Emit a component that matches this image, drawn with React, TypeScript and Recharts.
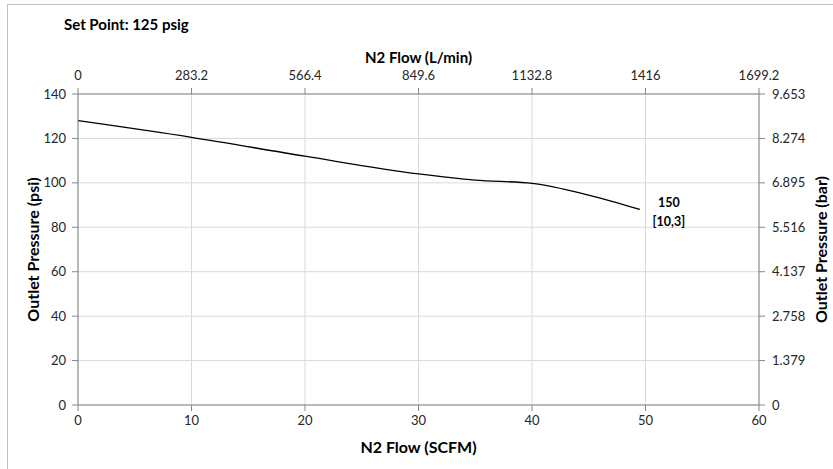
import { CartesianGrid, Label, LabelList, Line, LineChart, XAxis, YAxis } from "recharts";

const scfm = [0, 10, 20, 30, 35, 40, 45, 49.5];
const psi = [128, 120.5, 112, 104, 101.2, 99.8, 94.5, 88];

const scfmTicks = [0, 10, 20, 30, 40, 50, 60];
const lpmTicks = ["0", "283.2", "566.4", "849.6", "1132.8", "1416", "1699.2"];
const psiTicks = [0, 20, 40, 60, 80, 100, 120, 140];
const barTicks = ["0", "1.379", "2.758", "4.137", "5.516", "6.895", "8.274", "9.653"];

const endLabel = ["150", "[10,3]"];
const setPoint = "Set Point: 125 psig";

const data = scfm.map((x, i) => ({ scfm: x, psi: psi[i] }));

const FONT = "Lato, 'Noto Sans', sans-serif";
const tickStyle = { fontSize: 13, fill: "#262626", fontFamily: FONT };
const axisGray = "#868686";

const titleProps = { fontFamily: FONT, fontWeight: 700, fill: "#000" };

const renderEndLabel = (props: any) => {
  const { x, y, index } = props;
  if (index !== data.length - 1) return null;
  return (
    <g>
      <text x={x + 29} y={y - 7} textAnchor="middle" dominantBaseline="central" fontSize={12.5} {...titleProps}>
        {endLabel[0]}
      </text>
      <text x={x + 29} y={y + 12} textAnchor="middle" dominantBaseline="central" fontSize={12.5} {...titleProps}>
        {endLabel[1]}
      </text>
    </g>
  );
};

const App = () => {
  return (
    <div style={{ position: "absolute", left: 0, top: 0, width: 833, height: 469, background: "#fff", overflow: "hidden" }}>
      {/* chart frame, right and bottom edges fall outside */}
      <div style={{ position: "absolute", left: 7, top: 4, width: 900, height: 500, border: "1px solid #bfbfbf" }} />
      <div
        style={{
          position: "absolute",
          left: 64,
          top: 15,
          fontFamily: FONT,
          fontWeight: 700,
          fontSize: 15,
          color: "#000",
        }}
      >
        {setPoint}
      </div>
      <div style={{ position: "absolute", left: 0, top: 0 }}>
        <LineChart width={833} height={469} data={data} margin={{ top: 0, right: 0, bottom: 0, left: 0 }}>
          <CartesianGrid xAxisId="bottom" yAxisId="left" stroke="#d9d9d9" horizontalValues={psiTicks} verticalValues={scfmTicks} />
          <XAxis
            xAxisId="bottom"
            dataKey="scfm"
            type="number"
            domain={[0, 60]}
            ticks={scfmTicks}
            interval={0}
            height={64}
            tickSize={6}
            tickMargin={5}
            stroke={axisGray}
            tick={tickStyle}
            tickLine={{ stroke: axisGray }}
          >
            <Label
              content={({ viewBox }: any) => (
                <text x={viewBox.x + viewBox.width / 2} y={446} textAnchor="middle" dominantBaseline="central" fontSize={16} {...titleProps}>
                  N2 Flow (SCFM)
                </text>
              )}
            />
          </XAxis>
          {/* L/min axis shares the SCFM scale, labels come from lpmTicks */}
          <XAxis
            xAxisId="top"
            dataKey="scfm"
            orientation="top"
            type="number"
            domain={[0, 60]}
            ticks={scfmTicks}
            interval={0}
            allowDataOverflow
            tickFormatter={(v: number) => lpmTicks[scfmTicks.indexOf(v)]}
            height={94}
            tickSize={6}
            tickMargin={8}
            stroke={axisGray}
            tick={tickStyle}
            tickLine={{ stroke: axisGray }}
          >
            <Label
              content={({ viewBox }: any) => (
                <text x={viewBox.x + viewBox.width / 2} y={57} textAnchor="middle" dominantBaseline="central" fontSize={15} {...titleProps}>
                  N2 Flow (L/min)
                </text>
              )}
            />
          </XAxis>
          <YAxis
            yAxisId="left"
            type="number"
            domain={[0, 140]}
            ticks={psiTicks}
            interval={0}
            width={78}
            tickSize={6}
            tickMargin={6}
            stroke={axisGray}
            tick={tickStyle}
            tickLine={{ stroke: axisGray }}
          >
            <Label
              content={({ viewBox }: any) => {
                const cy = viewBox.y + viewBox.height / 2;
                return (
                  <text x={32} y={cy} transform={`rotate(-90 32 ${cy})`} textAnchor="middle" dominantBaseline="central" fontSize={16} {...titleProps}>
                    Outlet Pressure (psi)
                  </text>
                );
              }}
            />
          </YAxis>
          {/* bar axis shares the psi scale, labels come from barTicks */}
          <YAxis
            yAxisId="right"
            orientation="right"
            type="number"
            domain={[0, 140]}
            ticks={psiTicks}
            interval={0}
            allowDataOverflow
            tickFormatter={(v: number) => barTicks[psiTicks.indexOf(v)]}
            width={74}
            tickSize={6}
            tickMargin={7}
            stroke={axisGray}
            tick={tickStyle}
            tickLine={{ stroke: axisGray }}
          >
            <Label
              content={({ viewBox }: any) => {
                const cy = viewBox.y + viewBox.height / 2;
                return (
                  <text x={820} y={cy} transform={`rotate(-90 820 ${cy})`} textAnchor="middle" dominantBaseline="central" fontSize={16} {...titleProps}>
                    Outlet Pressure (bar)
                  </text>
                );
              }}
            />
          </YAxis>
          <Line
            xAxisId="bottom"
            yAxisId="left"
            dataKey="psi"
            type="monotone"
            stroke="#000"
            strokeWidth={1.3}
            dot={false}
            isAnimationActive={false}
          >
            <LabelList dataKey="psi" content={renderEndLabel} />
          </Line>
        </LineChart>
      </div>
    </div>
  );
};

export default App;
